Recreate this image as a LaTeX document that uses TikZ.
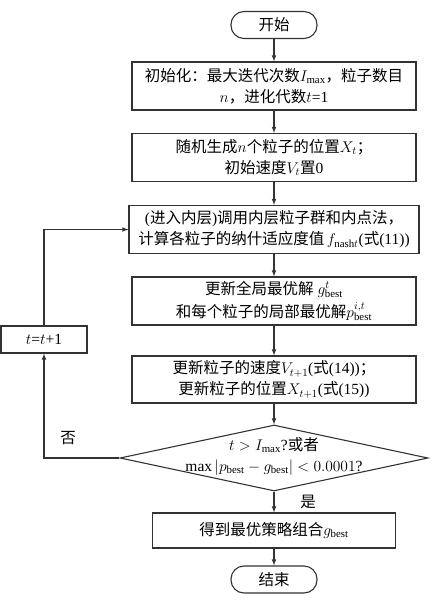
\RequirePackage{fix-cm}
\documentclass[tikz,border=0pt]{standalone}
\usepackage{fontspec}
\setmainfont{Liberation Serif}
\newfontfamily\cjk{Noto Sans CJK SC}
\newcommand{\zh}[1]{{\cjk #1}}
\usetikzlibrary{shapes}
\usetikzlibrary{math}

\begin{document}
\begin{tikzpicture}[x = 1pt, y = -1pt, >=latex,
    every node/.style = {font=\fontsize{15.5}{21}\selectfont},
    proc/.style = {draw=black!80, line width=1.1pt, align=center, inner sep=0pt,
                   minimum width=284pt, minimum height=48pt},
    term/.style = {draw=black!80, line width=1.1pt, rounded corners=13pt, inner sep=0pt,
                   minimum width=86pt, minimum height=27pt},
    flow/.style = {draw=black!80, line width=1.1pt}]

    \useasboundingbox (0,0) rectangle (442,608);
    \tikzmath{\xc = 274;};

    % main column
    \node [term] (start) at (\xc,25) {\zh{开始}};
    \node [proc] (init) at (\xc,86) {\zh{初始化：最大迭代次数}$I_{\max}$\zh{，粒子数目}\\$n$\zh{，进化代数}$t$=1};
    \node [proc] (gen) at (\xc,157.5) {\zh{随机生成}$n$\zh{个粒子的位置}$X_t$\zh{；}\\\zh{初始速度}$V_t$\zh{置}0};
    \node [proc, minimum width=290pt] (inner) at (\xc,229.5) {(\zh{进入内层})\zh{调用内层粒子群和内点法，}\\\zh{计算各粒子的纳什适应度值}\,$f_{\mathrm{nash}t}$(\zh{式}(11))};
    \node [proc, font=\fontsize{15.5}{23}\selectfont] (best) at (\xc,301) {\zh{更新全局最优解}\ $g^{t}_{\mathrm{best}}$\\\zh{和每个粒子的局部最优解}$p^{i,t}_{\mathrm{best}}$};
    \node [proc, minimum height=47pt] (upd) at (\xc,379.5) {\zh{更新粒子的速度}$V_{t+1}$(\zh{式}(14))\zh{；}\\\zh{更新粒子的位置}$X_{t+1}$(\zh{式}(15))};
    \node [flow, diamond, inner sep=0pt, minimum width=308pt, minimum height=66pt] (dec) at (\xc,458) {};
    \node [align=center] (cond) at (\xc,456) {$t>I_{\max}$?\zh{或者}\\$\max|p_{\mathrm{best}}-g_{\mathrm{best}}|<0.0001$?};
    \node [proc, minimum width=243pt, minimum height=35pt] (res) at (\xc,530.5) {\zh{得到最优策略组合}$g_{\mathrm{best}}$};
    \node [term] (stop) at (\xc,579.5) {\zh{结束}};

    % loop back
    \node [proc, minimum width=86pt, minimum height=27pt] (incr) at (44,339.5) {$t$=$t$+1};

    \draw [flow, ->] (start) -- (init);
    \draw [flow, ->] (init) -- (gen);
    \draw [flow, ->] (gen) -- (inner);
    \draw [flow, ->] (inner) -- (best);
    \draw [flow, ->] (best) -- (upd);
    \draw [flow, ->] (upd) -- (dec);
    \draw [flow, ->] (dec) -- (res);
    \draw [flow, ->] (res) -- (stop);
    \draw [flow, ->] (dec.west) -| (incr.south);
    \draw [flow, ->] (incr.north) |- (inner.west);

    \node (no) at (68,438) {\zh{否}};
    \node (yes) at (308,502) {\zh{是}};

\end{tikzpicture}
\end{document}
